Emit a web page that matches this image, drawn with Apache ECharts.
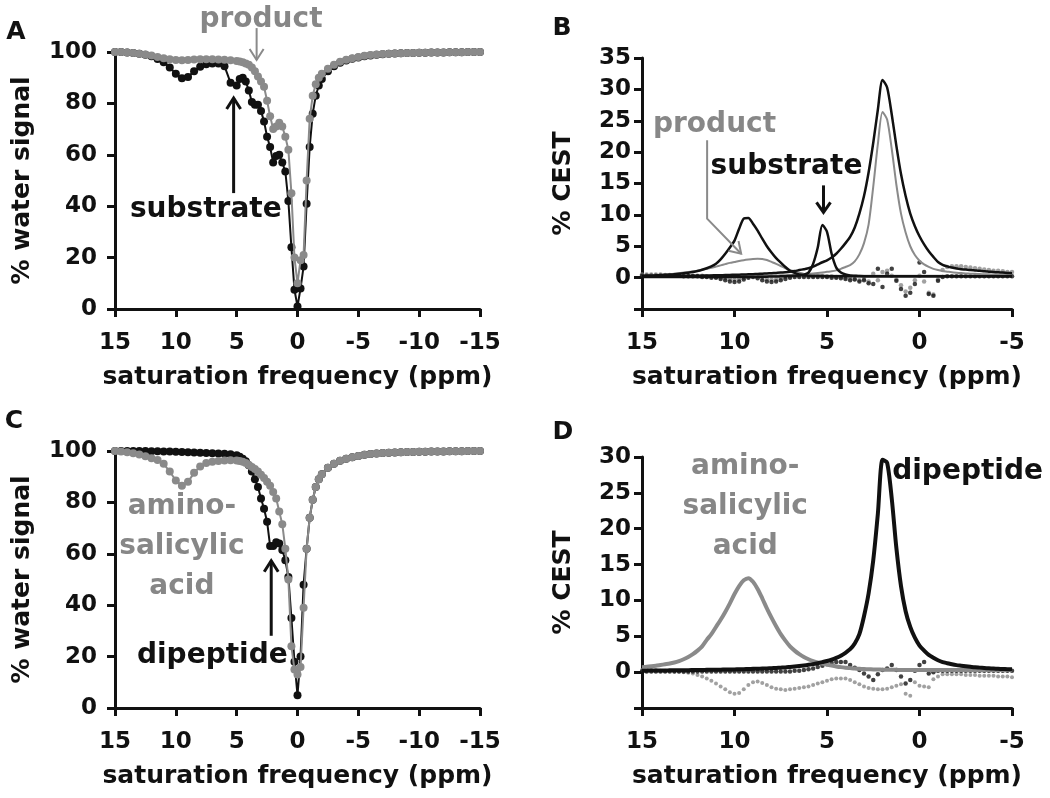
<!DOCTYPE html>
<html><head><meta charset="utf-8">
<script src="https://cdn.jsdelivr.net/npm/echarts@6/dist/echarts.min.js"></script>
<style>html,body{margin:0;padding:0;background:#fff}#c{width:1050px;height:798px}</style>
</head><body><div id="c"></div>
<script>
// ---------- Z-spectra (panels A and C) ----------
const zPpm = [15,14.5,14,13.5,13,12.5,12,11.5,11,10.5,10,9.5,9,8.5,8,7.5,7,6.5,6,5.5,5,
  4.75,4.5,4.25,4,3.75,3.5,3.25,3,2.75,2.5,2.25,2,1.75,1.5,1.25,1,0.75,0.5,0.25,0,-0.25,-0.5,-0.75,-1,-1.25,-1.5,-1.75,-2,
  -2.5,-3,-3.5,-4,-4.5,-5,-5.5,-6,-6.5,-7,-7.5,-8,-8.5,-9,-9.5,-10,-10.5,-11,-11.5,-12,-12.5,-13,-13.5,-14,-14.5,-15];
const zSubstrateA = [100,100,99.8,99.6,99.3,98.9,98.3,97.3,96,94,91.5,89.8,90.3,92.5,94.3,95.2,95.5,95.5,94.5,88,87,
  89.5,90,88.5,85,80.5,79.5,79.5,77,73,67,63,57,59.5,60,57,53.5,42,24,7.5,1,8,16.5,41,63,76,83,87,89.5,
  92.5,94.5,95.8,96.7,97.4,97.9,98.3,98.6,98.9,99.1,99.3,99.4,99.5,99.6,99.6,99.7,99.7,99.8,99.8,99.8,99.9,99.9,99.9,100,100,100];
const zProductA = [100,100,99.8,99.6,99.3,99,98.6,98.1,97.6,97.2,96.9,96.8,96.9,97.1,97.2,97.2,97.2,97.1,97,96.8,96.5,
  96.3,96,95.5,95,94,92.5,90.5,88.5,86.5,81,75,70,71,72.5,71,67,62,45,20,10,19,21,50,74,83,87.5,90,91.5,
  93.5,95,96.2,97,97.6,98.1,98.5,98.8,99,99.2,99.3,99.4,99.5,99.6,99.6,99.7,99.7,99.8,99.8,99.8,99.9,99.9,99.9,100,100,100];
const zDipeptideC = [100,100,100,100,100,100,99.9,99.9,99.8,99.8,99.7,99.6,99.5,99.4,99.3,99.2,99.1,99,98.9,98.7,98.3,
  97.8,97,96,94.5,92,89,86,81.5,77.5,72.5,63,63,64.5,64,61.5,57.5,51,35,18,5,20,48,62,74,81,86,89,91,
  93.5,95,96.2,97,97.6,98.1,98.5,98.8,99,99.2,99.3,99.4,99.5,99.6,99.6,99.7,99.7,99.8,99.8,99.8,99.9,99.9,99.9,100,100,100];
const zAminoC = [100,99.8,99.5,99.1,98.6,98,97.2,96.5,95,92,88.5,86.5,88,91.5,94,95.3,95.8,96.1,96.3,96.4,96.3,
  96.1,95.8,95.3,94.6,93.8,93,92,90.8,89.5,88,86.5,84,81.5,76.5,71.5,62,50,24,15,13,16,39,62,74,81,86,89,91,
  93.5,95,96.2,97,97.6,98.1,98.5,98.8,99,99.2,99.3,99.4,99.5,99.6,99.6,99.7,99.7,99.8,99.8,99.8,99.9,99.9,99.9,100,100,100];

// ---------- CEST spectra (panels B and D), 0.25 ppm steps ----------
const cestPpm = [15,14.75,14.5,14.25,14,13.75,13.5,13.25,13,12.75,
  12.5,12.25,12,11.75,11.5,11.25,11,10.75,10.5,10.25,
  10,9.75,9.5,9.25,9,8.75,8.5,8.25,8,7.75,
  7.5,7.25,7,6.75,6.5,6.25,6,5.75,5.5,5.25,
  5,4.75,4.5,4.25,4,3.75,3.5,3.25,3,2.75,
  2.5,2.25,2,1.75,1.5,1.25,1,0.75,0.5,0.25,
  0,-0.25,-0.5,-0.75,-1,-1.25,-1.5,-1.75,-2,-2.25,
  -2.5,-2.75,-3,-3.25,-3.5,-3.75,-4,-4.25,-4.5,-4.75,-5];

// fitted curves
const fitSubstrate9 = [0.3,0.32,0.34,0.37,0.4,0.44,0.48,0.53,0.6,0.68,
  0.78,0.9,1.05,1.25,1.5,1.8,2.2,2.9,3.8,4.8,
  5.9,7.8,9.4,9.5,8.6,7.5,6.2,5.0,4.0,3.1,
  2.4,1.7,1.1,0.75,0.5,0.38,0.3,0.27,0.25,0.24,
  0.23,0.22,0.22,0.21,0.2,0.2,0.2,0.2,0.2,0.2,
  0.2,0.2,0.2,0.2,0.2,0.2,0.2,0.2,0.2,0.2,
  0.2,0.2,0.2,0.2,0.2,0.2,0.2,0.2,0.2,0.2,
  0.2,0.2,0.2,0.2,0.2,0.2,0.2,0.2,0.2,0.2,0.2];
const fitSubstrate5 = [0.1,0.1,0.1,0.1,0.1,0.1,0.1,0.1,0.1,0.1,
  0.1,0.1,0.1,0.1,0.1,0.1,0.1,0.1,0.1,0.1,
  0.1,0.1,0.1,0.1,0.1,0.12,0.14,0.15,0.17,0.18,
  0.2,0.22,0.25,0.3,0.35,0.45,0.8,2.2,4.8,8.4,
  7.3,3.8,1.6,0.8,0.5,0.35,0.3,0.25,0.22,0.2,
  0.2,0.2,0.2,0.2,0.2,0.2,0.2,0.2,0.2,0.2,
  0.2,0.2,0.2,0.2,0.2,0.2,0.2,0.2,0.2,0.2,
  0.2,0.2,0.2,0.2,0.2,0.2,0.2,0.2,0.2,0.2,0.2];
const fitSubstrate2 = [0.15,0.16,0.17,0.18,0.2,0.21,0.22,0.23,0.25,0.26,
  0.28,0.29,0.3,0.32,0.33,0.35,0.37,0.39,0.4,0.43,
  0.45,0.47,0.5,0.52,0.55,0.58,0.62,0.66,0.7,0.75,
  0.8,0.87,0.95,1.05,1.2,1.35,1.5,1.75,2.1,2.45,
  2.75,3.2,3.8,4.6,5.5,6.5,8.0,10.2,13,16.8,
  21.5,26.8,31.5,30.3,26,21,16.5,13,10.2,8.2,
  6.6,5.3,4.2,3.3,2.5,2.05,1.8,1.6,1.45,1.35,
  1.28,1.2,1.15,1.1,1.0,0.95,0.9,0.85,0.8,0.75,0.7];
const fitProduct9 = [0.3,0.33,0.36,0.4,0.44,0.49,0.55,0.62,0.7,0.8,
  0.9,1.0,1.1,1.25,1.4,1.55,1.75,1.95,2.15,2.35,
  2.5,2.65,2.78,2.88,2.96,3.0,2.97,2.8,2.5,2.2,
  1.85,1.5,1.2,1.0,0.8,0.6,0.5,0.42,0.36,0.33,
  0.3,0.3,0.3,0.3,0.3,0.3,0.3,0.3,0.3,0.3,
  0.3,0.3,0.3,0.3,0.3,0.3,0.3,0.3,0.3,0.3,
  0.3,0.3,0.3,0.3,0.3,0.3,0.3,0.3,0.3,0.3,
  0.3,0.3,0.3,0.3,0.3,0.3,0.3,0.3,0.3,0.3,0.3];
const fitProduct2 = [0.1,0.1,0.1,0.11,0.11,0.12,0.12,0.13,0.13,0.14,
  0.14,0.15,0.15,0.16,0.16,0.17,0.18,0.19,0.2,0.21,
  0.22,0.23,0.24,0.25,0.26,0.27,0.28,0.3,0.32,0.34,
  0.36,0.39,0.42,0.46,0.5,0.55,0.6,0.67,0.75,0.83,
  0.92,1.0,1.15,1.4,1.7,2.0,2.6,3.7,5.5,8.5,
  14.5,21.3,26.4,25.2,20.5,14.8,10.2,7.2,5.0,3.6,
  2.7,2.1,1.7,1.4,1.2,1.05,0.95,0.85,0.78,0.72,
  0.67,0.63,0.6,0.57,0.54,0.52,0.5,0.47,0.45,0.43,0.42];
const fitAminoD = [0.7,0.75,0.82,0.9,1.0,1.1,1.2,1.35,1.55,1.8,
  2.1,2.5,3.0,3.6,4.5,5.3,6.3,7.3,8.4,9.6,
  10.9,12.0,12.8,13.1,12.6,11.6,10.3,8.9,7.6,6.4,
  5.3,4.4,3.6,3.0,2.5,2.1,1.8,1.55,1.35,1.2,
  1.05,0.92,0.8,0.7,0.62,0.56,0.5,0.46,0.43,0.4,
  0.38,0.36,0.35,0.34,0.33,0.32,0.31,0.3,0.3,0.3,
  0.3,0.3,0.3,0.3,0.3,0.3,0.3,0.3,0.3,0.3,
  0.3,0.3,0.3,0.3,0.3,0.3,0.3,0.3,0.3,0.3,0.3];
const fitDipeptideD = [0.2,0.21,0.22,0.22,0.23,0.24,0.25,0.26,0.27,0.28,
  0.28,0.29,0.3,0.31,0.32,0.33,0.34,0.35,0.36,0.37,
  0.38,0.4,0.42,0.44,0.46,0.48,0.5,0.52,0.55,0.58,
  0.62,0.66,0.72,0.78,0.85,0.93,1.02,1.12,1.25,1.4,
  1.55,1.75,2.0,2.3,2.7,3.2,4.0,5.3,7.8,11,
  15.6,22.1,29.6,29.2,24.2,17.3,12,8.5,6.3,4.8,
  3.7,3.0,2.4,2.0,1.65,1.4,1.25,1.1,0.98,0.9,
  0.82,0.75,0.68,0.63,0.58,0.54,0.5,0.47,0.44,0.42,0.4];

// measured points
const pointsSubstrateB = [0.3,0.3,0.3,0.3,0.3,0.3,0.3,0.3,0.3,0.2,
  0.2,0.2,0.2,0.1,0.1,0,0,-0.2,-0.4,-0.6,
  -0.7,-0.6,-0.3,0,0.1,-0.1,-0.4,-0.6,-0.7,-0.6,
  -0.4,-0.2,0,0.1,0.1,0.1,0.1,0.1,0.1,0.1,
  0.1,0,0,-0.1,-0.2,-0.4,-0.3,-0.6,-0.4,-0.9,
  -1.0,1.4,-1.5,0.6,1.4,-0.5,-1.8,-2.9,-2.4,-1.0,
  2.4,0.9,-2.6,-2.9,-0.5,0.1,0.2,0.2,0.2,0.2,
  0.2,0.2,0.2,0.2,0.2,0.2,0.2,0.2,0.2,0.2,0.2];
const pointsProductB = [0.5,0.5,0.5,0.5,0.5,0.4,0.4,0.4,0.4,0.4,
  0.3,0.3,0.3,0.3,0.2,0.2,0.1,0,-0.1,-0.2,
  -0.3,-0.2,0,0.2,0.3,0.2,0,-0.2,-0.3,-0.3,
  -0.1,0.1,0.2,0.3,0.3,0.3,0.3,0.3,0.3,0.3,
  0.2,0.2,0.1,0.1,0,-0.1,-0.2,-0.4,-0.2,-0.6,
  0.6,-0.4,0.9,1.1,0.3,-0.3,-1.2,-2.2,-1.6,-0.4,
  0.3,-0.6,-2.4,-2.7,-0.3,1.2,1.7,1.8,1.8,1.8,
  1.7,1.6,1.5,1.4,1.3,1.2,1.1,1.1,1.0,0.9,0.9];
const pointsDipeptideD = [0.1,0.1,0.1,0.1,0.1,0.1,0.1,0.1,0.1,0.1,
  0.1,0.1,0.1,0.1,0.1,0.1,0.1,0.1,0.1,0.1,
  0.1,0.1,0.1,0.1,0.1,0.1,0.1,0.1,0.1,0.1,
  0.1,0.1,0.1,0.2,0.2,0.3,0.4,0.5,0.7,0.9,
  1.1,1.3,1.4,1.4,1.4,1.0,0.6,0.3,-0.2,-0.6,
  -1.1,-0.3,0.3,0.5,1.0,0.3,-0.6,-1.6,-1.1,0.2,
  1.0,1.4,-0.2,0,0.2,0.2,0.2,0.2,0.2,0.2,
  0.2,0.2,0.2,0.2,0.2,0.2,0.2,0.2,0.2,0.2,0.2];
const pointsAminoD = [0.3,0.3,0.3,0.3,0.2,0.2,0.2,0.1,0.1,0,
  -0.1,-0.2,-0.4,-0.6,-0.9,-1.2,-1.6,-2.0,-2.4,-2.8,
  -3.0,-2.9,-2.4,-1.8,-1.4,-1.3,-1.5,-1.8,-2.1,-2.3,
  -2.4,-2.5,-2.4,-2.3,-2.2,-2.1,-2.0,-1.8,-1.6,-1.4,
  -1.2,-1.0,-0.9,-0.9,-0.9,-1.1,-1.4,-1.7,-2.0,-2.2,
  -2.3,-2.4,-2.4,-2.3,-2.1,-1.9,-1.7,-3.0,-3.3,-1.4,
  -1.9,-2.0,-2.1,-1.0,-0.6,-0.3,-0.3,-0.3,-0.3,-0.3,
  -0.4,-0.4,-0.4,-0.5,-0.5,-0.5,-0.5,-0.6,-0.6,-0.6,-0.7];

// ---------- checks ----------
[[zPpm,zSubstrateA],[zPpm,zProductA],[zPpm,zDipeptideC],[zPpm,zAminoC],
 [cestPpm,fitSubstrate9],[cestPpm,fitSubstrate5],[cestPpm,fitSubstrate2],[cestPpm,fitProduct9],[cestPpm,fitProduct2],[cestPpm,fitAminoD],[cestPpm,fitDipeptideD],
 [cestPpm,pointsSubstrateB],[cestPpm,pointsProductB],[cestPpm,pointsDipeptideD],[cestPpm,pointsAminoD]].forEach((p,i)=>{
  if (p[0].length !== p[1].length) throw new Error('length mismatch in pair '+i+': '+p[0].length+' vs '+p[1].length);
});

const BLACK = '#111111', GRAY = '#8a8a8a', TGRAY = '#878787';
const FONT = 'DejaVu Sans';
const pairs = (xs, ys) => xs.map((x, i) => [x, ys[i]]);

const chart = echarts.init(document.getElementById('c'), null, {renderer: 'canvas'});

const grids = [
  {left: 115, top: 52, width: 365, height: 257},
  {left: 642, top: 58, width: 370, height: 251},
  {left: 115, top: 451, width: 365, height: 257},
  {left: 642, top: 457, width: 370, height: 251}
];

function xAx(gi, min, max) {
  return {
    gridIndex: gi, type: 'value', min: min, max: max, interval: 5, inverse: true,
    name: 'saturation frequency (ppm)', nameLocation: 'middle', nameGap: 56,
    nameTextStyle: {fontFamily: FONT, fontWeight: 'bold', fontSize: 25, color: BLACK},
    axisLine: {show: true, onZero: false, lineStyle: {color: BLACK, width: 3}},
    axisTick: {show: true, length: 8, lineStyle: {color: BLACK, width: 3}},
    axisLabel: {margin: 23, fontFamily: FONT, fontWeight: 'bold', fontSize: 23, color: BLACK},
    splitLine: {show: false}
  };
}
function yAx(gi, min, max, interval, name, gap, margin) {
  return {
    gridIndex: gi, type: 'value', min: min, max: max, interval: interval,
    name: name, nameLocation: 'middle', nameGap: gap, nameRotate: 90,
    nameTextStyle: {fontFamily: FONT, fontWeight: 'bold', fontSize: 25, color: BLACK},
    axisLine: {show: true, onZero: false, lineStyle: {color: BLACK, width: 3}},
    axisTick: {show: true, length: 8, lineStyle: {color: BLACK, width: 3}},
    axisLabel: {margin: margin, fontFamily: FONT, fontWeight: 'bold', fontSize: 23, color: BLACK,
      formatter: v => (v < 0 ? '' : String(v))},
    splitLine: {show: false}
  };
}

function zSeries(gi, ys, color, z) {
  return {type: 'line', xAxisIndex: gi, yAxisIndex: gi, data: pairs(zPpm, ys),
    symbol: 'circle', symbolSize: 8, showSymbol: true, showAllSymbol: true,
    lineStyle: {color: color, width: 2}, itemStyle: {color: color}, z: z, silent: true};
}
function fitSeries(gi, ys, color, width, z) {
  return {type: 'line', xAxisIndex: gi, yAxisIndex: gi, data: pairs(cestPpm, ys),
    showSymbol: false, smooth: 0.25,
    lineStyle: {color: color, width: width, join: 'round'}, z: z, silent: true};
}
function ptSeries(gi, ys, color, size, z) {
  return {type: 'scatter', xAxisIndex: gi, yAxisIndex: gi, data: pairs(cestPpm, ys),
    symbol: 'circle', symbolSize: size, itemStyle: {color: color}, z: z, silent: true};
}

const option = {
  animation: false,
  backgroundColor: '#ffffff',
  grid: grids,
  xAxis: [xAx(0, -15, 15), xAx(1, -5, 15), xAx(2, -15, 15), xAx(3, -5, 15)],
  yAxis: [
    yAx(0, 0, 100, 20, '% water signal', 80, 18),
    yAx(1, -5, 35, 5, '% CEST', 66, 11),
    yAx(2, 0, 100, 20, '% water signal', 80, 18),
    yAx(3, -5, 30, 5, '% CEST', 66, 11)
  ],
  series: [
    zSeries(0, zSubstrateA, BLACK, 2),
    zSeries(0, zProductA, GRAY, 3),
    ptSeries(1, pointsProductB, GRAY, 4.5, 2),
    ptSeries(1, pointsSubstrateB, BLACK, 4.5, 3),
    fitSeries(1, fitProduct9, GRAY, 2, 4),
    fitSeries(1, fitProduct2, GRAY, 2, 4),
    fitSeries(1, fitSubstrate9, BLACK, 2.5, 5),
    fitSeries(1, fitSubstrate5, BLACK, 2.5, 5),
    fitSeries(1, fitSubstrate2, BLACK, 2.5, 5),
    zSeries(2, zDipeptideC, BLACK, 2),
    zSeries(2, zAminoC, GRAY, 3),
    ptSeries(3, pointsAminoD, GRAY, 4, 2),
    ptSeries(3, pointsDipeptideD, BLACK, 4.5, 3),
    fitSeries(3, fitAminoD, GRAY, 4, 4),
    fitSeries(3, fitDipeptideD, BLACK, 4, 5)
  ]
};
chart.setOption(option);

// ---------- annotations placed in data coordinates ----------
const P = (g, x, y) => chart.convertToPixel({gridIndex: g}, [x, y]);
const annoFont = 'bold 28px "DejaVu Sans"';
function txt(g, x, y, text, color) {
  const p = P(g, x, y);
  return {type: 'text', x: p[0], y: p[1], silent: true, z: 50,
    style: {text: text, fill: color, font: annoFont, align: 'center', verticalAlign: 'middle',
      textAlign: 'center', textVerticalAlign: 'middle', lineHeight: 40}};
}
function arrow(g, pts, color, width, headLen, headHalf) {
  const pp = pts.map(q => P(g, q[0], q[1]));
  const n = pp.length;
  const [x1, y1] = pp[n - 2], [x2, y2] = pp[n - 1];
  const a = Math.atan2(y2 - y1, x2 - x1);
  const c = Math.cos(a), s = Math.sin(a);
  const l = [x2 - headLen * c + headHalf * s, y2 - headLen * s - headHalf * c];
  const r = [x2 - headLen * c - headHalf * s, y2 - headLen * s + headHalf * c];
  return [
    {type: 'polyline', silent: true, z: 50, shape: {points: pp}, style: {stroke: color, lineWidth: width, fill: 'none'}},
    {type: 'polyline', silent: true, z: 50, shape: {points: [l, [x2, y2], r]}, style: {stroke: color, lineWidth: width, fill: 'none', lineJoin: 'miter'}}
  ];
}
function letter(x, y, t) {
  return {type: 'text', x: x, y: y, silent: true, z: 50,
    style: {text: t, fill: BLACK, font: 'bold 25px "DejaVu Sans"', align: 'center', verticalAlign: 'middle',
      textAlign: 'center', textVerticalAlign: 'middle'}};
}

const graphics = [
  letter(16, 32, 'A'), letter(562, 28, 'B'), letter(14, 421, 'C'), letter(563, 432, 'D'),
  txt(0, 3.0, 112.5, 'product', TGRAY),
  txt(0, 7.54, 38.5, 'substrate', BLACK),
  txt(1, 11.08, 24.4, 'product', TGRAY),
  txt(1, 7.19, 17.6, 'substrate', BLACK),
  txt(2, 9.5, 62.6, 'amino-\nsalicylic\nacid', TGRAY),
  txt(2, 7.0, 20.4, 'dipeptide', BLACK),
  txt(3, 9.42, 23.0, 'amino-\nsalicylic\nacid', TGRAY),
  txt(3, -2.6, 27.9, 'dipeptide', BLACK)
].concat(
  arrow(0, [[3.36, 109.3], [3.36, 96.9]], GRAY, 2, 11, 7),
  arrow(0, [[5.25, 45.1], [5.25, 82.1]], BLACK, 3, 11, 7),
  arrow(1, [[11.48, 21.9], [11.48, 9.4], [9.64, 3.8]], GRAY, 2, 11, 7),
  arrow(1, [[5.19, 14.7], [5.19, 10.4]], BLACK, 3, 10, 7),
  arrow(2, [[2.16, 28.1], [2.16, 57.3]], BLACK, 3, 11, 7)
);
chart.setOption({graphic: graphics});
</script>
</body></html>
